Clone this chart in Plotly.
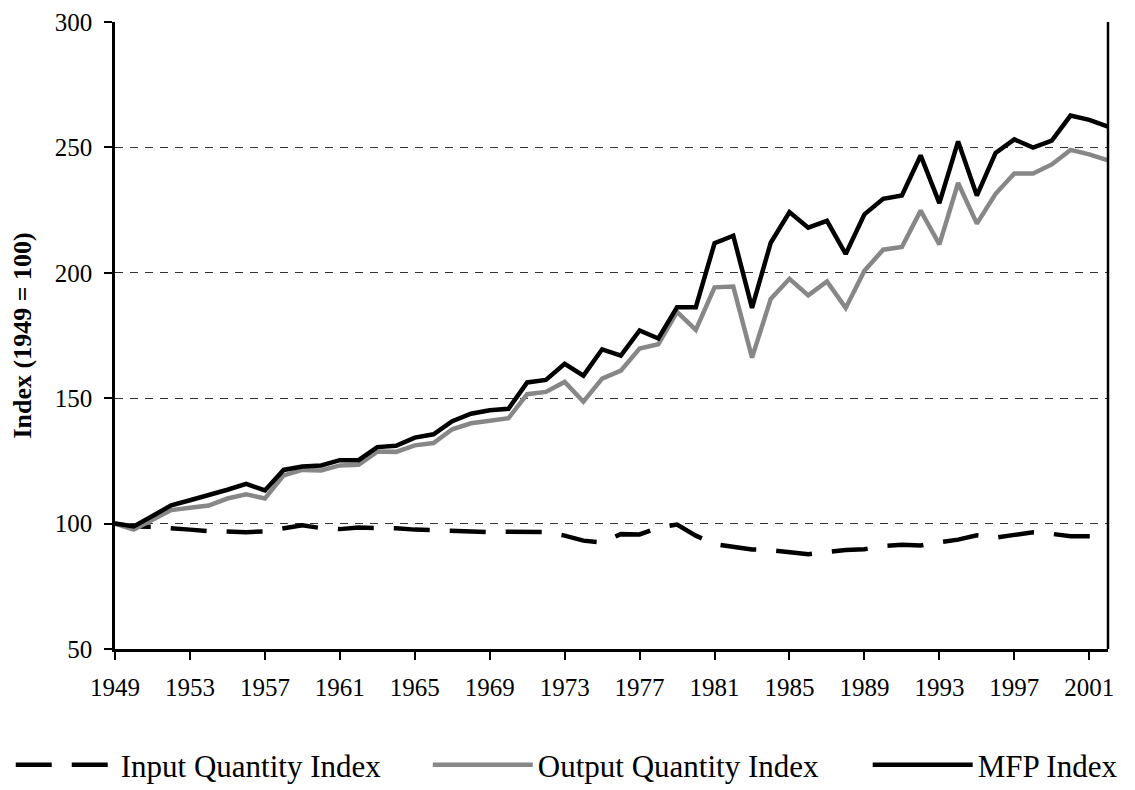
import plotly.graph_objects as go

years = list(range(1949, 2003))

mfp_index = [100, 98.9, 103, 107.3, 109.3, 111.3, 113.5, 115.8, 113.2, 121.4,
             122.8, 123.2, 125.3, 125.3, 130.5, 131, 134.3, 135.6, 140.8, 143.8,
             145.2, 145.8, 156.3, 157.3, 163.7, 159, 169.5, 167, 177, 173.8,
             186.3, 186.3, 211.8, 214.8, 186, 212, 224.2, 218, 220.7, 207.5,
             223.3, 229.5, 230.8, 246.8, 227.8, 252.4, 230.8, 247.8, 253.2, 249.9,
             252.7, 262.7, 261, 258.3]

output_index = [100, 97.6, 101.5, 105.4, 106.3, 107.2, 110, 111.7, 110, 119.2,
                121.4, 121.2, 123.2, 123.5, 128.7, 128.6, 131.2, 132.1, 137.6, 140,
                141, 142, 151.6, 152.5, 156.5, 148.6, 157.8, 161, 169.8, 171.5,
                184.4, 177.2, 194.2, 194.5, 166.2, 189.6, 197.6, 191, 196.6, 186,
                200.8, 209.2, 210.3, 224.8, 211.3, 235.8, 219.6, 231.5, 239.6, 239.6,
                243.2, 249, 247.2, 244.8]

input_index = [100, 98.8, 98.7, 98.3, 97.6, 97, 96.7, 96.6, 96.9, 98.1,
               99.3, 98.2, 97.8, 98.4, 98.4, 98.1, 97.6, 97.3, 97.2, 96.9,
               96.6, 96.8, 96.6, 96.6, 95.2, 93.2, 92.5, 95.8, 95.7, 98.4,
               99.6, 95.2, 91.8, 90.6, 89.7, 89.4, 88.4, 87.8, 88.7, 89.5,
               89.8, 91.1, 91.6, 91.3, 92.6, 93.6, 95.3, 94.4, 95.5, 96.5,
               95.9, 95, 95, 95]

x_ticks = list(range(1949, 2002, 4))
y_ticks = [50, 100, 150, 200, 250, 300]
grid_vals = [100, 150, 200, 250]

FONT = "Liberation Serif"

fig = go.Figure()
fig.add_trace(go.Scatter(x=years, y=input_index, mode="lines", name="Input Quantity Index",
                         line=dict(color="black", width=4.5, dash="36px,20px"),
                         legend="legend"))
fig.add_trace(go.Scatter(x=years, y=output_index, mode="lines", name="Output Quantity Index",
                         line=dict(color="#878787", width=4.5), legend="legend2"))
fig.add_trace(go.Scatter(x=years, y=mfp_index, mode="lines", name="MFP Index",
                         line=dict(color="black", width=4.5), legend="legend3"))

leg_common = dict(orientation="h", y=-0.185, yanchor="middle", xanchor="left",
                  font=dict(family=FONT, size=31), itemwidth=100,
                  bgcolor="rgba(0,0,0,0)")

# page body has an 8px default margin: size the figure so it fits the 1135x790 window
fig.update_layout(
    width=1127, height=782,
    margin=dict(l=107, r=27, t=14, b=141, autoexpand=False),
    paper_bgcolor="white", plot_bgcolor="white",
    font=dict(family=FONT, color="black", size=25),
    xaxis=dict(range=[1949, 2002], tickvals=x_ticks, ticks="outside", ticklen=8,
               tickwidth=2, tickcolor="black", showline=True, linecolor="black",
               linewidth=2.5, showgrid=False, zeroline=False, automargin=False,
               ticklabelstandoff=6,
               tickfont=dict(family=FONT, size=25)),
    yaxis=dict(range=[50, 300], tickvals=y_ticks, ticks="outside", ticklen=8,
               tickwidth=2, tickcolor="black", showline=True, linecolor="black",
               linewidth=2.5, showgrid=False, zeroline=False, automargin=False,
               ticklabelstandoff=7,
               tickfont=dict(family=FONT, size=25),
               title=dict(text="<b>Index (1949 = 100)</b>", standoff=18,
                          font=dict(family=FONT, size=26))),
    yaxis2=dict(range=[50, 300], overlaying="y", side="left", tickvals=grid_vals,
                showticklabels=False, ticks="", showgrid=True, gridcolor="#333333",
                griddash="8px,7px", gridwidth=1, zeroline=False, showline=False,
                automargin=False),
    legend=dict(x=-0.105, **leg_common),
    legend2=dict(x=0.315, **leg_common),
    legend3=dict(x=0.758, **leg_common),
    showlegend=True,
    shapes=[dict(type="line", xref="paper", yref="paper", x0=1, x1=1, y0=0, y1=1,
                 line=dict(color="black", width=2.5))],
)
# invisible trace to activate the grid axis
fig.add_trace(go.Scatter(x=[years[0]], y=[input_index[0]], yaxis="y2", mode="markers",
                         marker=dict(opacity=0), showlegend=False, hoverinfo="skip"))

fig.write_html("out.html")
